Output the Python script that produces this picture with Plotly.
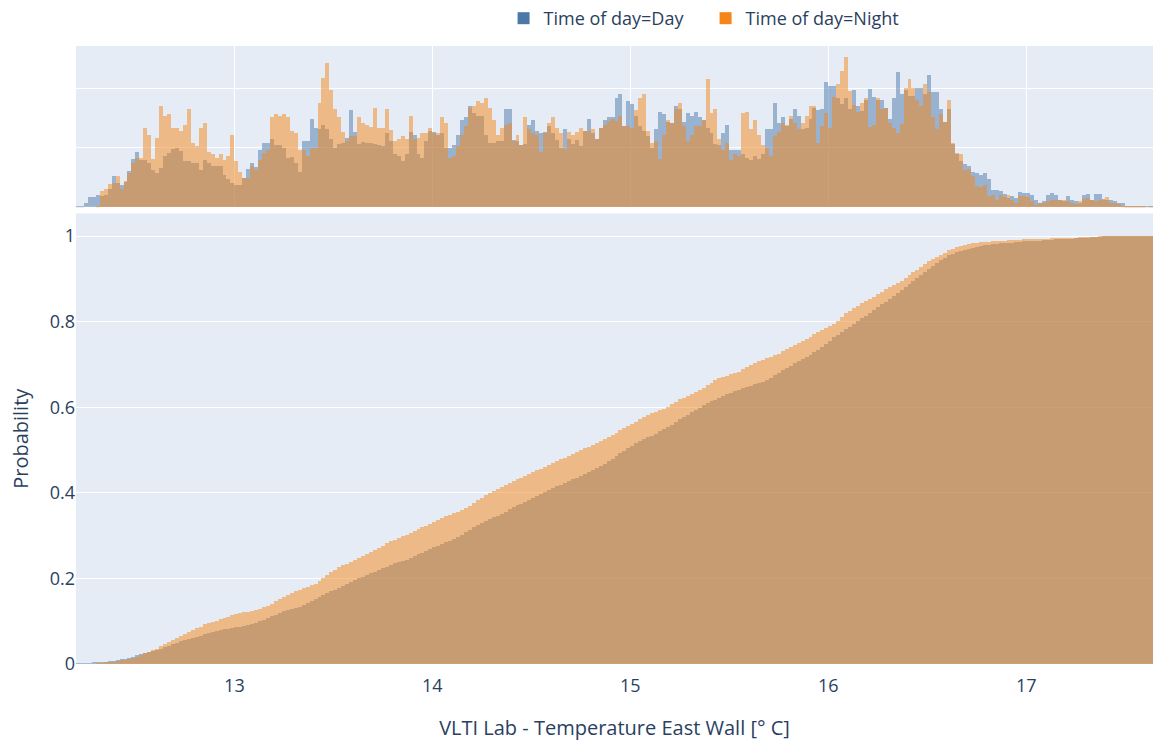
import numpy as np
import plotly.graph_objects as go

# Histogram bins: 0.02 °C wide, starting at 12.20 °C
BIN_START = 12.20
BIN_SIZE = 0.02

# Counts per bin (marginal histogram), one value per 0.02 °C bin
day_counts = [
    1, 3, 7, 17, 17, 20, 19, 20, 30, 52,
    40, 38, 43, 61, 81, 93, 80, 80, 75, 63,
    58, 66, 86, 92, 98, 100, 94, 78, 78, 75,
    75, 63, 80, 75, 70, 69, 69, 55, 48, 40,
    38, 38, 49, 65, 75, 68, 96, 108, 108, 115,
    104, 104, 100, 83, 85, 75, 59, 111, 111, 149,
    134, 131, 138, 131, 114, 100, 106, 108, 117, 163,
    126, 107, 110, 108, 108, 107, 104, 103, 125, 111,
    89, 87, 78, 89, 126, 122, 89, 83, 111, 128,
    126, 122, 124, 100, 100, 104, 121, 147, 151, 170,
    159, 153, 153, 122, 108, 108, 111, 111, 165, 165,
    113, 112, 105, 107, 138, 147, 128, 124, 126, 137,
    124, 113, 100, 131, 114, 106, 113, 103, 128, 148,
    124, 115, 134, 147, 152, 152, 183, 190, 137, 179,
    173, 153, 137, 128, 120, 100, 131, 160, 156, 143,
    142, 170, 166, 143, 158, 153, 160, 152, 147, 134,
    124, 106, 104, 124, 138, 97, 97, 97, 90, 83,
    80, 86, 81, 89, 132, 132, 175, 142, 152, 137,
    149, 166, 153, 132, 134, 149, 167, 163, 166, 211,
    204, 204, 184, 173, 184, 165, 197, 171, 162, 181,
    198, 186, 180, 181, 167, 149, 184, 228, 190, 197,
    187, 187, 201, 201, 190, 222, 193, 193, 166, 143,
    165, 106, 89, 78, 72, 69, 59, 58, 55, 58,
    47, 29, 29, 27, 23, 16, 19, 16, 25, 24,
    24, 20, 13, 7, 10, 20, 24, 20, 13, 10,
    19, 13, 10, 7, 21, 23, 13, 23, 23, 14,
    12, 12, 10, 8, 7, 3, 2, 2, 1, 1,
    1, 1,
]
night_counts = [
    0, 0, 0, 0, 0, 1, 28, 30, 39, 40,
    52, 30, 44, 58, 75, 83, 83, 134, 121, 81,
    117, 170, 153, 157, 134, 134, 129, 139, 166, 108,
    103, 134, 142, 93, 90, 83, 89, 80, 86, 121,
    78, 59, 49, 49, 69, 62, 80, 92, 97, 151,
    156, 154, 156, 151, 128, 124, 97, 97, 86, 100,
    100, 176, 217, 242, 197, 166, 152, 126, 111, 120,
    120, 152, 142, 139, 135, 167, 134, 134, 166, 130,
    111, 114, 120, 114, 154, 115, 117, 124, 124, 134,
    124, 124, 152, 142, 83, 86, 103, 122, 137, 167,
    170, 179, 175, 184, 167, 147, 122, 134, 139, 141,
    112, 121, 104, 152, 131, 124, 121, 93, 124, 142,
    152, 134, 124, 98, 126, 122, 126, 134, 128, 128,
    131, 115, 134, 139, 145, 148, 145, 153, 137, 137,
    134, 163, 184, 190, 128, 108, 111, 81, 122, 147,
    142, 165, 175, 137, 111, 121, 137, 137, 147, 215,
    159, 166, 114, 96, 108, 80, 89, 87, 159, 160,
    131, 147, 122, 104, 100, 86, 120, 126, 141, 138,
    153, 141, 131, 142, 153, 170, 170, 108, 137, 158,
    134, 186, 207, 229, 253, 196, 172, 160, 175, 183,
    135, 138, 184, 166, 167, 141, 134, 124, 140, 201,
    215, 201, 180, 170, 208, 194, 151, 132, 156, 143,
    181, 108, 92, 90, 63, 65, 52, 35, 34, 37,
    19, 21, 13, 21, 17, 20, 13, 8, 19, 19,
    17, 10, 4, 7, 7, 10, 12, 12, 13, 13,
    10, 7, 6, 10, 14, 16, 12, 10, 12, 12,
    17, 7, 7, 6, 3, 3, 2, 2, 1, 1,
    0, 1,
]

x_ticks = [13, 14, 15, 16, 17]
prob_ticks = [0, 0.2, 0.4, 0.6, 0.8, 1]

series = [
    ("Time of day=Day", day_counts, "#4C78A8"),
    ("Time of day=Night", night_counts, "#F58518"),
]

bin_end = BIN_START + BIN_SIZE * len(day_counts)
centers = BIN_START + BIN_SIZE * (np.arange(len(day_counts)) + 0.5)
xbins = dict(start=BIN_START, end=bin_end, size=BIN_SIZE)

fig = go.Figure()
for name, counts, color in series:
    # cumulative probability in the main panel
    fig.add_trace(go.Histogram(
        x=centers, y=counts, histfunc="sum", histnorm="probability",
        cumulative=dict(enabled=True), xbins=xbins, autobinx=False,
        name=name, legendgroup=name,
        marker=dict(color=color, opacity=0.5),
        xaxis="x", yaxis="y",
    ))
    # raw counts in the marginal panel above
    fig.add_trace(go.Histogram(
        x=centers, y=counts, histfunc="sum", xbins=xbins, autobinx=False,
        name=name, legendgroup=name, showlegend=False,
        marker=dict(color=color, opacity=0.5),
        xaxis="x2", yaxis="y2",
    ))

font_family = '"Open Sans", verdana, arial, sans-serif'
fig.update_layout(
    template="plotly",
    width=1153, height=742,
    margin=dict(l=76, r=0, t=45, b=78),
    barmode="overlay", bargap=0,
    font=dict(family=font_family, size=18, color="#2a3f5f"),
    legend=dict(orientation="h", x=0.397, xanchor="left", y=1.045,
                yanchor="middle", font=dict(size=18),
                entrywidth=157, entrywidthmode="pixels"),
    xaxis=dict(domain=[0, 1], range=[BIN_START, bin_end], tickvals=x_ticks,
               showgrid=False, tickfont=dict(size=18), automargin=False,
               ticklabelstandoff=9,
               title=dict(text="VLTI Lab - Temperature East Wall [° C]",
                          font=dict(size=20), standoff=24)),
    yaxis=dict(domain=[0, 0.729], tickvals=prob_ticks, tickfont=dict(size=18),
               automargin=False,
               title=dict(text="Probability", font=dict(size=20))),
    xaxis2=dict(domain=[0, 1], matches="x", anchor="y2", tickvals=x_ticks,
                showticklabels=False, showgrid=True),
    yaxis2=dict(domain=[0.739, 1], anchor="x2", range=[0, 271], dtick=100,
                showticklabels=False, showgrid=True, ticks=""),
)

fig.write_html("out.html")
